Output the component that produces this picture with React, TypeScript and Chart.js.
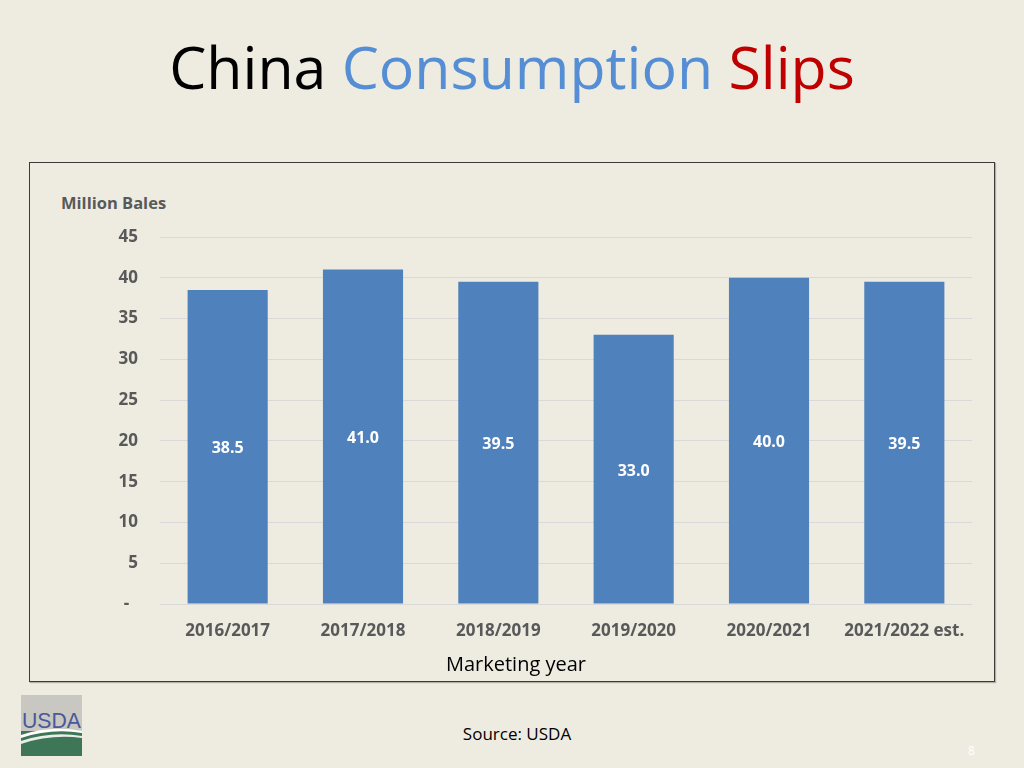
import React, { useEffect, useRef } from "react";
import { Chart, registerables } from "chart.js";

Chart.register(...registerables);

const categories = ["2016/2017", "2017/2018", "2018/2019", "2019/2020", "2020/2021", "2021/2022 est."];
const consumption = [38.5, 41.0, 39.5, 33.0, 40.0, 39.5];
const yTicks = [0, 5, 10, 15, 20, 25, 30, 35, 40, 45];

const FONT = "'Open Sans', 'Noto Sans', sans-serif";
const BG = "#EEECE1";
const BAR = "#4F81BD";
const TICK = "#595959";

const labelPlugin = {
  id: "centerLabels",
  afterDatasetsDraw(chart: any) {
    const ctx = chart.ctx;
    const meta = chart.getDatasetMeta(0);
    ctx.save();
    ctx.font = `bold 16px ${FONT}`;
    ctx.fillStyle = "#FFFFFF";
    ctx.textAlign = "center";
    ctx.textBaseline = "middle";
    meta.data.forEach((bar: any, i: number) => {
      const v = chart.data.datasets[0].data[i] as number;
      const y = (bar.y + bar.base) / 2 + 2;
      ctx.fillText(v.toFixed(1), bar.x, y);
    });
    ctx.restore();
  },
};

function BarChart() {
  const ref = useRef<HTMLCanvasElement>(null);
  useEffect(() => {
    if (!ref.current) return;
    const chart = new Chart(ref.current, {
      type: "bar",
      data: {
        labels: categories,
        datasets: [
          {
            data: consumption,
            backgroundColor: BAR,
            borderWidth: 0,
            barPercentage: 0.592,
            categoryPercentage: 1,
          },
        ],
      },
      options: {
        responsive: false,
        animation: false,
        layout: { padding: { top: 74, right: 22, left: 0, bottom: 0 } },
        plugins: { legend: { display: false }, tooltip: { enabled: false }, title: { display: false } },
        scales: {
          x: {
            grid: { display: false, drawTicks: false },
            border: { display: false },
            ticks: {
              color: TICK,
              font: { family: FONT, size: 17, weight: "bold" },
              padding: 17,
              maxRotation: 0,
              autoSkip: false,
            },
            afterFit: (s: any) => {
              s.height = 77;
            },
          },
          y: {
            min: 0,
            max: 45,
            afterBuildTicks: (s: any) => {
              s.ticks = yTicks.map((v) => ({ value: v }));
            },
            grid: { color: "#D9D9D9", lineWidth: 1, drawTicks: false },
            border: { display: false },
            ticks: {
              color: TICK,
              font: { family: FONT, size: 17, weight: "bold" },
              padding: 22,
              callback: (v: any) => (Number(v) === 0 ? "-  " : String(v)),
            },
            afterFit: (s: any) => {
              s.width = 130;
            },
          },
        },
      },
      plugins: [labelPlugin],
    });
    return () => chart.destroy();
  }, []);
  return <canvas ref={ref} width={964} height={518} style={{ position: "absolute", left: 30, top: 163 }} />;
}

function UsdaLogo() {
  return (
    <svg width={61} height={61} viewBox="0 0 61 61" style={{ position: "absolute", left: 21, top: 695 }}>
      <rect x={0} y={0} width={61} height={61} fill="#C9C7C1" />
      <rect x={0} y={36} width={61} height={25} fill="#3D7758" />
      <path d="M0 40 Q30 30 61 36 L61 38 Q30 33 0 43 Z" fill="#FFFFFF" />
      <path d="M0 46 Q30 36 61 41 L61 43 Q30 39 0 49 Z" fill="#E8EEE8" />
      <text x={1} y={33} fontFamily="'Liberation Sans Narrow', 'Liberation Sans', sans-serif" fontSize={22} fill="#4A5898" textLength={59} lengthAdjust="spacingAndGlyphs">
        USDA
      </text>
    </svg>
  );
}

export default function App() {
  return (
    <div
      style={{
        position: "absolute",
        left: 0,
        top: 0,
        width: 1024,
        height: 768,
        background: BG,
        overflow: "hidden",
        fontFamily: FONT,
      }}
    >
      <div
        style={{
          position: "absolute",
          left: 0,
          top: 26,
          width: 1024,
          textAlign: "center",
          fontSize: 59,
          lineHeight: "80px",
          whiteSpace: "nowrap",
        }}
      >
        <span style={{ color: "#000000" }}>China </span>
        <span style={{ color: "#558ED5" }}>Consumption </span>
        <span style={{ color: "#C00000" }}>Slips</span>
      </div>
      <div
        style={{
          position: "absolute",
          left: 29,
          top: 162,
          width: 964,
          height: 518,
          border: "1px solid #3A3A3A",
          boxShadow: "1px 1px 1px rgba(0,0,0,0.25)",
        }}
      />
      <div
        style={{
          position: "absolute",
          left: 61,
          top: 192,
          fontSize: 16.5,
          fontWeight: "bold",
          color: TICK,
          lineHeight: "22px",
          whiteSpace: "nowrap",
        }}
      >
        Million Bales
      </div>
      <BarChart />
      <div
        style={{
          position: "absolute",
          left: 30,
          top: 651,
          width: 964,
          textAlign: "center",
          fontSize: 20,
          color: "#000000",
          lineHeight: "26px",
          paddingLeft: 8,
          boxSizing: "border-box",
        }}
      >
        Marketing year
      </div>
      <UsdaLogo />
      <div
        style={{
          position: "absolute",
          left: 0,
          top: 723,
          width: 1034,
          textAlign: "center",
          fontSize: 17,
          color: "#000000",
          lineHeight: "22px",
        }}
      >
        Source: USDA
      </div>
      <div
        style={{
          position: "absolute",
          left: 968,
          top: 742,
          fontSize: 12,
          color: "#FFFFFF",
          lineHeight: "18px",
        }}
      >
        8
      </div>
    </div>
  );
}
